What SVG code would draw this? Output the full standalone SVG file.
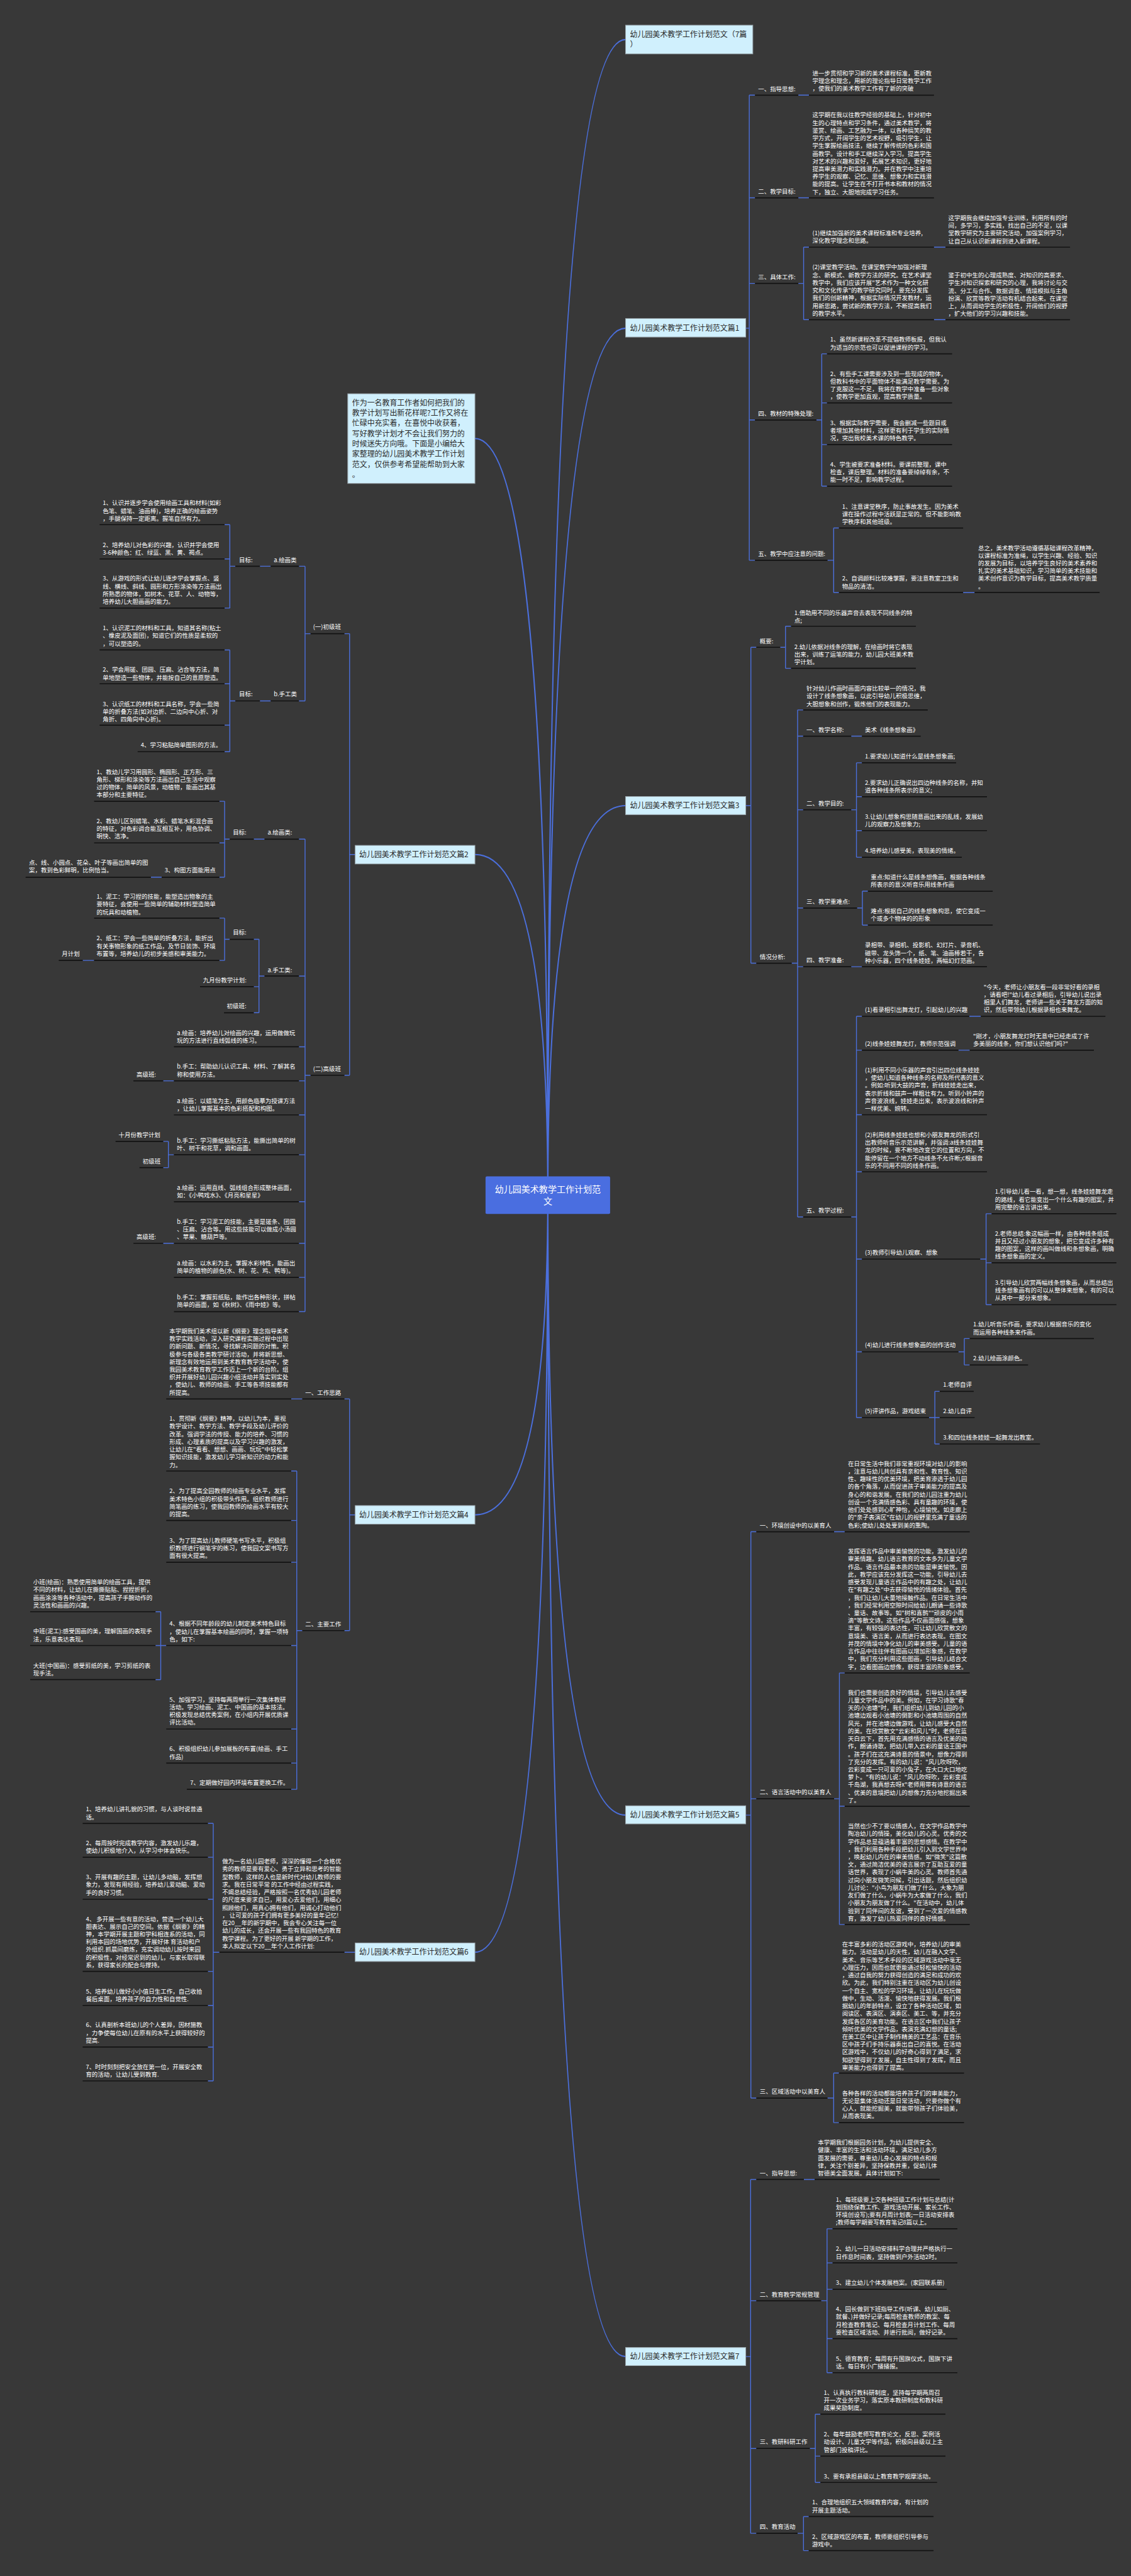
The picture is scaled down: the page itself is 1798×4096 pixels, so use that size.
<svg xmlns="http://www.w3.org/2000/svg" width="1798" height="4096" viewBox="0 0 1798 4096">
<style>
.t{font-family:"Noto Sans CJK SC","Noto Sans",sans-serif;font-size:13.5px;fill:#ffffff}
.h{font-family:"Noto Sans CJK SC","Noto Sans",sans-serif;font-size:17px;fill:#2b2b2b}
.c{font-family:"Noto Sans CJK SC","Noto Sans",sans-serif;font-size:20px;fill:#ffffff}
.ul{stroke:#121212;stroke-width:2.4;fill:none}
.bl{stroke:#4b6fdc;stroke-width:2;fill:none}
.cv{stroke:#4b6fdc;stroke-width:3;fill:none}
.box{fill:#d0f0fd;stroke:#9aa6ad;stroke-width:1.5}
</style>
<rect width="1798" height="4096" fill="#383838"/>
<g transform="scale(0.70234 0.70245)">
<g id="connectors">
<path class="cv" d="M1240 2705Q1240 89.5 1416 89.5M1240 2705Q1240 743 1416 743M1240 2705Q1240 1823.6 1416 1823.6M1240 2705Q1240 4108.7 1416 4108.7M1240 2705Q1240 5334.4 1416 5334.4M1240 2705Q1240 992.6 1075 992.6M1240 2705Q1240 1934.2 1075 1934.2M1240 2705Q1240 3429 1075 3429M1240 2705Q1240 4419 1075 4419"/>
<path class="bl" d="M1688 743H1696M1696 215.4V1268.3M1696 215.4H1709M1807 215.4H1831M1696 447.8H1709M1807 447.8H1831M1696 641.5H1709M1807 641.5H1819M1819 559.5V723.6M1819 559.5H1831M1819 723.6H1831M2114 559.5H2140M2114 723.6H2140M1696 950.7H1709M1848 950.7H1860M1860 801V1100.5M1860 801H1872M1860 912H1872M1860 1006.3H1872M1860 1100.5H1872M1696 1268.3H1709M1873 1268.3H1887M1887 1195.2V1341.3M1887 1195.2H1899M1887 1341.3H1899M2180 1341.3H2206"/>
<path class="bl" d="M1688 1823.6H1699.6M1699.6 1465.2V2180.3M1699.6 1465.2H1712M1766 1465.2H1778M1778 1417.5V1512.8M1778 1417.5H1790.6M1778 1512.8H1790.6M1699.6 2180.3H1712M1792 2180.3H1805.4M1805.4 1607V2754.7M1805.4 1607H1818M1805.4 1666.4H1818M1805.4 1833H1818M1805.4 2055.4H1818M1805.4 2188.3H1818M1805.4 2754.7H1818M1926.7 1666.4H1951M1926.7 1833H1938.6M1938.6 1726.7V1940.5M1938.6 1726.7H1951M1938.6 1803.4H1951M1938.6 1880.2H1951M1938.6 1940.5H1951M1940 2055.4H1952M1952 2017.3V2094M1952 2017.3H1964.5M1952 2094H1964.5M1926.7 2188.3H1951M1926.7 2754.7H1938.6M1938.6 2300.5V3208.8M1938.6 2300.5H1951M1938.6 2377.2H1951M1938.6 2523.3H1951M1938.6 2652.5H1951M1938.6 2850H1951M1938.6 3060H1951M1938.6 3208.8H1951M2194 2300.5H2220M2169.4 2377.2H2195M2218.7 2850H2232M2232 2747.3V2953.2M2232 2747.3H2244.6M2232 2858.4H2244.6M2232 2953.2H2244.6M2169.4 3060H2182.7M2182.7 3029.9V3089.7M2182.7 3029.9H2195M2182.7 3089.7H2195M2102.8 3208.8H2116M2116 3149.5V3268.6M2116 3149.5H2127M2116 3208.8H2127M2116 3268.6H2127"/>
<path class="bl" d="M1688 4108.7H1699.6M1699.6 3467.2V4749.2M1699.6 3467.2H1712M1888 3467.2H1912M1699.6 4071.6H1712M1888 4071.6H1900M1900 3786.9V4356.4M1900 3786.9H1912M1900 4088.6H1912M1900 4356.4H1912M1699.6 4749.2H1712M1873 4749.2H1887M1887 4692.6V4804.8M1887 4692.6H1899M1887 4804.8H1899"/>
<path class="bl" d="M1688 5334.4H1699M1699 4933.4V5734.4M1699 4933.4H1712M1819.5 4933.4H1844M1699 5208H1712M1858.7 5208H1872M1872 5045V5370.8M1872 5045H1884.6M1872 5122.2H1884.6M1872 5182H1884.6M1872 5293.7H1884.6M1872 5370.8H1884.6M1699 5542.3H1712M1833 5542.3H1845.4M1845.4 5464.7V5619.3M1845.4 5464.7H1857M1845.4 5559.6H1857M1845.4 5619.3H1857M1699 5734.4H1712M1805.4 5734.4H1818.7M1818.7 5696.4V5773.5M1818.7 5696.4H1830.6M1818.7 5773.5H1830.6"/>
<path class="bl" d="M804 1934.2H791.3M791.3 1434.4V2434M791.3 1434.4H779.5M703 1434.4H690.5M690.5 1281.8V1586.6M690.5 1281.8H676.6M612.7 1281.8H588.3M532.7 1281.8H520.2M520.2 1187.6V1376.5M520.2 1187.6H508.4M520.2 1265.2H508.4M520.2 1376.5H508.4M690.5 1586.6H676.6M612.7 1586.6H588.3M532.7 1586.6H520.2M520.2 1471.2V1701.5M520.2 1471.2H508.4M520.2 1547.8H508.4M520.2 1641.5H508.4M520.2 1701.5H508.4M791.3 2434H779.5M703 2434H690.5M690.5 1899.5V2969M690.5 1899.5H676.6M690.5 2209.3H676.6M690.5 2369.5H676.6M690.5 2446.6H676.6M690.5 2523.7H676.6M690.5 2613.9H676.6M690.5 2720.2H676.6M690.5 2814.4H676.6M690.5 2891.5H676.6M690.5 2969H676.6M598.8 1899.5H574.4M520 1899.5H508.4M508.4 1813.8V1985.6M508.4 1813.8H496.6M508.4 1908H496.6M508.4 1985.6H496.6M365.9 1985.6H341.5M598.8 2209.3H586.2M586.2 2126.2V2292.4M586.2 2126.2H574.4M586.2 2233.5H574.4M586.2 2292.4H574.4M520 2126.2H508.4M508.4 2078.3V2174M508.4 2078.3H496.6M508.4 2174H496.6M213 2174H187.2M393.7 2446.6H369.4M393.7 2613.9H381.2M381.2 2583.7V2643.1M381.2 2583.7H369.4M381.2 2643.1H369.4M393.7 2814.4H369.4"/>
<path class="bl" d="M804 3429H791.3M791.3 3166.6V3691M791.3 3166.6H779.5M684.3 3166.6H659.2M791.3 3691H779.5M684.3 3691H671.7M671.7 3329.8V4050.3M671.7 3329.8H659.2M671.7 3441.7H659.2M671.7 3536.4H659.2M671.7 3724.8H659.2M671.7 3913.8H659.2M671.7 3990.9H659.2M671.7 4050.3H659.2M376.3 3724.8H363.8M363.8 3648.3V3802M363.8 3648.3H352M363.8 3724.8H352M363.8 3802H352"/>
<path class="bl" d="M804 4419.1H779.5M496.6 4419.1H482.7M482.7 4127.4V4710.3M482.7 4127.4H470.5M482.7 4204H470.5M482.7 4299.2H470.5M482.7 4462.4H470.5M482.7 4539.5H470.5M482.7 4633.7H470.5M482.7 4710.3H470.5"/>
</g>

<g id="center">
<rect x="1099" y="2663" width="282" height="85" rx="3" fill="#4a6ee0"/>
<text class="c" x="1240" y="2698.5" text-anchor="middle">幼儿园美术教学工作计划范</text>
<text class="c" x="1240" y="2726.5" text-anchor="middle">文</text>
</g>

<g id="intro">
<rect class="box" x="787.2" y="891.3" width="287.8" height="203"/>
<text class="h" x="797" y="918"><tspan>作为一名教育工作者如何把我们的</tspan><tspan x="797" dy="23.2">教学计划写出新花样呢?工作又将在</tspan><tspan x="797" dy="23.2">忙碌中充实着，在喜悦中收获着，</tspan><tspan x="797" dy="23.2">写好教学计划才不会让我们努力的</tspan><tspan x="797" dy="23.2">时候迷失方向哦。下面是小编给大</tspan><tspan x="797" dy="23.2">家整理的幼儿园美术教学工作计划</tspan><tspan x="797" dy="23.2">范文，仅供参考希望能帮助到大家</tspan><tspan x="797" dy="23.2">。</tspan></text>
</g>

<g id="title">
<rect class="box" x="1416" y="57" width="288" height="65"/>
<text class="h" x="1426" y="84.5"><tspan>幼儿园美术教学工作计划范文（7篇</tspan><tspan x="1426" dy="22.8">）</tspan></text>
</g>

<g id="p1">
<rect class="box" x="1416" y="721" width="272" height="42"/>
<text class="h" x="1426" y="749">幼儿园美术教学工作计划范文篇1</text>
<path class="ul" d="M1709 215.4H1807M1831 215.4H2114M1709 447.8H1807M1831 447.8H2114M1709 641.5H1807M1831 559.5H2114M2140 559.5H2422M1831 723.6H2114M2140 723.6H2422M1709 950.7H1848M1872 801H2155M1872 912H2155M1872 1006.3H2155M1872 1100.5H2155M1709 1268.3H1873M1899 1195.2H2180M1899 1341.3H2180M2206 1341.3H2489"/>
<text class="t" x="1716" y="206">一、指导思想:</text>
<text class="t" x="1839" y="170.7"><tspan>进一步贯彻和学习新的美术课程标准，更新教</tspan><tspan x="1839" dy="17.4">学理念和理念，用新的理论指导日常教学工作</tspan><tspan x="1839" dy="17.4">，使我们的美术教学工作有了新的突破</tspan></text>
<text class="t" x="1716" y="439">二、教学目标:</text>
<text class="t" x="1839" y="265.4"><tspan>这学期在我以往教学经验的基础上，针对初中</tspan><tspan x="1839" dy="17.4">生的心理特点和学习条件，通过美术教学，将</tspan><tspan x="1839" dy="17.4">鉴赏、绘画、工艺融为一体，以各种搞笑的教</tspan><tspan x="1839" dy="17.4">学方式，开阔学生的艺术视野，吸引学生，让</tspan><tspan x="1839" dy="17.4">学生掌握绘画技法，继续了解传统的色彩和国</tspan><tspan x="1839" dy="17.4">画教学。设计和手工继续深入学习。提高学生</tspan><tspan x="1839" dy="17.4">对艺术的兴趣和爱好，拓展艺术知识，更好地</tspan><tspan x="1839" dy="17.4">提高审美潜力和实践潜力。并在教学中注重培</tspan><tspan x="1839" dy="17.4">养学生的观察、记忆、思维、想象力和实践潜</tspan><tspan x="1839" dy="17.4">能的提高。让学生在不打开书本和教材的情况</tspan><tspan x="1839" dy="17.4">下，独立、大胆地完成学习任务。</tspan></text>
<text class="t" x="1716" y="632">三、具体工作:</text>
<text class="t" x="1839" y="532.7"><tspan>(1)继续加强新的美术课程标准和专业培养,</tspan><tspan x="1839" dy="17.4">深化教学理念和思路。</tspan></text>
<text class="t" x="2146.5" y="498.3"><tspan>这学期我会继续加强专业训练，利用所有的时</tspan><tspan x="2146.5" dy="17.4">间，多学习，多实践，找出自己的不足，以课</tspan><tspan x="2146.5" dy="17.4">堂教学研究为主要研究活动，加强案例学习，</tspan><tspan x="2146.5" dy="17.4">让自己从认识新课程到进入新课程。</tspan></text>
<text class="t" x="1839" y="610"><tspan>(2)课堂教学活动。在课堂教学中加强对新理</tspan><tspan x="1839" dy="17.4">念、新模式、新教学方法的研究。在艺术课堂</tspan><tspan x="1839" dy="17.4">教学中，我们应该开展"艺术作为一种文化研</tspan><tspan x="1839" dy="17.4">究和文化传承"的教学研究同时，要充分发挥</tspan><tspan x="1839" dy="17.4">我们的创新精神，根据实际情况开发教材，运</tspan><tspan x="1839" dy="17.4">用新思路，尝试新的教学方法，不断提高我们</tspan><tspan x="1839" dy="17.4">的教学水平。</tspan></text>
<text class="t" x="2146.5" y="628"><tspan>鉴于初中生的心理成熟度、对知识的高要求、</tspan><tspan x="2146.5" dy="17.4">学生对知识探索和研究的心理，我将讨论与交</tspan><tspan x="2146.5" dy="17.4">流、分工与合作、数据调查、情境模拟与主角</tspan><tspan x="2146.5" dy="17.4">扮演、欣赏等教学活动有机结合起来。在课堂</tspan><tspan x="2146.5" dy="17.4">上，从而调动学生的积极性，开阔他们的视野</tspan><tspan x="2146.5" dy="17.4">，扩大他们的学习兴趣和技能。</tspan></text>
<text class="t" x="1716" y="941.4">四、教材的特殊处理:</text>
<text class="t" x="1879" y="773.6"><tspan>1、虽然新课程改革不提倡教师板报，但我认</tspan><tspan x="1879" dy="17.4">为适当的示范也可以促进课程的学习。</tspan></text>
<text class="t" x="1879" y="850.9"><tspan>2、有些手工课需要涉及到一些现成的物体，</tspan><tspan x="1879" dy="17.4">但教科书中的平面物体不能满足教学需要。为</tspan><tspan x="1879" dy="17.4">了克服这一不足，我将在教学中准备一些对象</tspan><tspan x="1879" dy="17.4">，使教学更加直观，提高教学质量。</tspan></text>
<text class="t" x="1879" y="962"><tspan>3、根据实际教学需要，我会删减一些题目或</tspan><tspan x="1879" dy="17.4">者增加其他材料，这样更有利于学生的实际情</tspan><tspan x="1879" dy="17.4">况，突出我校美术课的特色教学。</tspan></text>
<text class="t" x="1879" y="1056.3"><tspan>4、学生被要求准备材料。要课前整理，课中</tspan><tspan x="1879" dy="17.4">检查，课后整理。材料的准备要绰绰有余，不</tspan><tspan x="1879" dy="17.4">能一时不足，影响教学过程。</tspan></text>
<text class="t" x="1716" y="1259">五、教学中应注意的问题:</text>
<text class="t" x="1906" y="1151"><tspan>1、注意课堂秩序，防止事故发生。因为美术</tspan><tspan x="1906" dy="17.4">课在操作过程中活跃是正常的。但不能影响教</tspan><tspan x="1906" dy="17.4">学秩序和其他班级。</tspan></text>
<text class="t" x="1906" y="1314.6"><tspan>2、自调颜料比较难掌握，要注意教室卫生和</tspan><tspan x="1906" dy="17.4">物品的清洁。</tspan></text>
<text class="t" x="2214" y="1245"><tspan>总之，美术教学活动遵循基础课程改革精神，</tspan><tspan x="2214" dy="17.4">以课程标准为准绳，以学生兴趣、经验、知识</tspan><tspan x="2214" dy="17.4">的发展为目标，以培养学生良好的美术素养和</tspan><tspan x="2214" dy="17.4">扎实的美术基础知识，学习简单的美术技能和</tspan><tspan x="2214" dy="17.4">美术创作意识为教学目标，提高美术教学质量</tspan><tspan x="2214" dy="17.4">。</tspan></text>
</g>

<g id="p3">
<rect class="box" x="1416" y="1803" width="272" height="41"/>
<text class="h" x="1426" y="1829.6">幼儿园美术教学工作计划范文篇3</text>
<path class="ul" d="M1712 1465.2H1766M1790.6 1417.5H2073M1790.6 1512.8H2073M1712 2180.3H1792M1818 1607H2100M1818 1666.4H1926.7M1951 1666.4H2084M1818 1833H1926.7M1951 1726.7H2164M1951 1803.4H2234M1951 1880.2H2234M1951 1940.5H2177M1818 2055.4H1940M1964.5 2017.3H2247M1964.5 2094H2247M1818 2188.3H1926.7M1951 2188.3H2234M1818 2754.7H1926.7M1951 2300.5H2194M2220 2300.5H2502M1951 2377.2H2169.4M2195 2377.2H2476M1951 2523.3H2234M1951 2652.5H2234M1951 2850H2218.7M2244.6 2747.3H2527M2244.6 2858.4H2527M2244.6 2953.2H2527M1951 3060H2169.4M2195 3029.9H2476M2195 3089.7H2327M1951 3208.8H2102.8M2127 3149.5H2204M2127 3208.8H2206M2127 3268.6H2354"/>
<text class="t" x="1719.6" y="1456">概要:</text>
<text class="t" x="1798" y="1391.8"><tspan>1.借助用不同的乐器声音去表现不同线条的特</tspan><tspan x="1798" dy="17.4">点;</tspan></text>
<text class="t" x="1798" y="1468.6"><tspan>2.幼儿依据对线条的理解，在绘画时将它表现</tspan><tspan x="1798" dy="17.4">出来，训练了运笔的能力，幼儿园大班美术教</tspan><tspan x="1798" dy="17.4">学计划。</tspan></text>
<text class="t" x="1719.6" y="2171">情况分析:</text>
<text class="t" x="1825.4" y="1563.4"><tspan>针对幼儿作画时画面内容比较单一的情况，我</tspan><tspan x="1825.4" dy="17.4">设计了线条想象画，以此引导幼儿积极思维，</tspan><tspan x="1825.4" dy="17.4">大胆想象和创作，锻炼他们的表现能力。</tspan></text>
<text class="t" x="1825.4" y="1657">一、教学名称:</text>
<text class="t" x="1957.8" y="1657">美术《线条想象画》</text>
<text class="t" x="1825.4" y="1823.8">二、教学目的:</text>
<text class="t" x="1957.8" y="1716.9">1.要求幼儿知道什么是线条想象画;</text>
<text class="t" x="1957.8" y="1776.7"><tspan>2.要求幼儿正确说出四边种线条的名称，并知</tspan><tspan x="1957.8" dy="17.4">道各种线条所表示的意义;</tspan></text>
<text class="t" x="1957.8" y="1853.4"><tspan>3.让幼儿想象构思随意画出来的乱线，发展幼</tspan><tspan x="1957.8" dy="17.4">儿的观察力及想象力;</tspan></text>
<text class="t" x="1957.8" y="1930.7">4.培养幼儿感受美，表现美的情绪。</text>
<text class="t" x="1825.4" y="2046">三、教学重难点:</text>
<text class="t" x="1971" y="1990.5"><tspan>重点:知道什么是线条想像画，根据各种线条</tspan><tspan x="1971" dy="17.4">所表示的意义听音乐用线条作画</tspan></text>
<text class="t" x="1971" y="2067.3"><tspan>难点:根据自己的线条想象构思，使它变成一</tspan><tspan x="1971" dy="17.4">个或多个物体的的形象</tspan></text>
<text class="t" x="1825.4" y="2178.4">四、教学准备:</text>
<text class="t" x="1957.8" y="2144.6"><tspan>录相带、录相机、投影机、幻灯片、录音机、</tspan><tspan x="1957.8" dy="17.4">磁带、龙头饰一个，纸、笔、油画棒若干，各</tspan><tspan x="1957.8" dy="17.4">种小乐器，四个线条娃娃，两幅幻灯范画。</tspan></text>
<text class="t" x="1825.4" y="2744.8">五、教学过程:</text>
<text class="t" x="1957.8" y="2290.7">(1)看录相引出舞龙灯，引起幼儿的兴趣</text>
<text class="t" x="2226.4" y="2238.8"><tspan>"今天，老师让小朋友看一段非常好看的录相</tspan><tspan x="2226.4" dy="17.4">，请看吧!"幼儿看过录相后，引导幼儿说出录</tspan><tspan x="2226.4" dy="17.4">相里人们舞龙，老师讲一些关于舞龙方面的知</tspan><tspan x="2226.4" dy="17.4">识，然后带领幼儿根据录相也来舞龙。</tspan></text>
<text class="t" x="1957.8" y="2367.4">(2)线条娃娃舞龙灯，教师示范强调</text>
<text class="t" x="2202.7" y="2350.5"><tspan>"刚才，小朋友舞龙灯时无意中已经走成了许</tspan><tspan x="2202.7" dy="17.4">多美丽的线条，你们想认识他们吗?"</tspan></text>
<text class="t" x="1957.8" y="2427.2"><tspan>(1)利用不同小乐器的声音引出四位线条娃娃</tspan><tspan x="1957.8" dy="17.4">，使幼儿知道各种线条的名称及所代表的意义</tspan><tspan x="1957.8" dy="17.4">。例如:听到大鼓的声音，折线娃娃走出来，</tspan><tspan x="1957.8" dy="17.4">表示折线和鼓声一样粗壮有力。听到小铃声的</tspan><tspan x="1957.8" dy="17.4">声音波浪线，娃娃走出来，表示波浪线和铃声</tspan><tspan x="1957.8" dy="17.4">一样优美、婉转。</tspan></text>
<text class="t" x="1957.8" y="2573.9"><tspan>(2)利用线条娃娃也想和小朋友舞龙的形式引</tspan><tspan x="1957.8" dy="17.4">出教师听音乐示范讲解，并强调:a线条娃娃舞</tspan><tspan x="1957.8" dy="17.4">龙的时候，要不断地改变它的位置和方向，不</tspan><tspan x="1957.8" dy="17.4">能停留在一个地方不动线条不允许断;c根据音</tspan><tspan x="1957.8" dy="17.4">乐的不同用不同的线条作画。</tspan></text>
<text class="t" x="1957.8" y="2840.1">(3)教师引导幼儿观察、想象</text>
<text class="t" x="2252" y="2702.5"><tspan>1.引导幼儿看一看，想一想，线条娃娃舞龙走</tspan><tspan x="2252" dy="17.4">的路线，看它能变出一个什么有趣的图案，并</tspan><tspan x="2252" dy="17.4">用完整的语言讲出来。</tspan></text>
<text class="t" x="2252" y="2796.7"><tspan>2.老师总结:象这幅画一样，由各种线条组成</tspan><tspan x="2252" dy="17.4">并且又经过小朋友的想象，把它变成许多种有</tspan><tspan x="2252" dy="17.4">趣的图案，这样的画叫做线和条想象画，明确</tspan><tspan x="2252" dy="17.4">线条想象画的定义。</tspan></text>
<text class="t" x="2252" y="2908.4"><tspan>3.引导幼儿欣赏两幅线条想象画，从而总结出</tspan><tspan x="2252" dy="17.4">线条想象画有的可以从整体来想象，有的可以</tspan><tspan x="2252" dy="17.4">从其中一部分来想象。</tspan></text>
<text class="t" x="1957.8" y="3049.7">(4)幼儿进行线条想象画的创作活动</text>
<text class="t" x="2202.7" y="3003"><tspan>1.幼儿听音乐作画，要求幼儿根据音乐的变化</tspan><tspan x="2202.7" dy="17.4">而运用各种线条来作画。</tspan></text>
<text class="t" x="2202.7" y="3079.9">2.幼儿绘画涂颜色。</text>
<text class="t" x="1957.8" y="3199">(5)评讲作品，游戏结束</text>
<text class="t" x="2134.6" y="3139.7">1.老师自评</text>
<text class="t" x="2134.6" y="3199">2.幼儿自评</text>
<text class="t" x="2134.6" y="3258.8">3.和四位线条娃娃一起舞龙出教室。</text>
</g>

<g id="p5">
<rect class="box" x="1416" y="4087.5" width="272" height="41"/>
<text class="h" x="1426" y="4114.7">幼儿园美术教学工作计划范文篇5</text>
<path class="ul" d="M1712 3467.2H1888M1912 3467.2H2195M1712 4071.6H1888M1912 3786.9H2195M1912 4088.6H2195M1912 4356.4H2195M1712 4749.2H1873M1899 4692.6H2182M1899 4804.8H2182"/>
<text class="t" x="1719.6" y="3457.3">一、环境创设中的以美育人</text>
<text class="t" x="1919.4" y="3318"><tspan>在日常生活中我们非常重视环境对幼儿的影响</tspan><tspan x="1919.4" dy="17.4">，注意与幼儿共创具有亲和性、教育性、知识</tspan><tspan x="1919.4" dy="17.4">性、趣味性的优美环境，把美育渗透于幼儿园</tspan><tspan x="1919.4" dy="17.4">的各个角落，从而促进孩子审美能力的提高及</tspan><tspan x="1919.4" dy="17.4">身心的和谐发展。在我们的幼儿园注重为幼儿</tspan><tspan x="1919.4" dy="17.4">创设一个充满情感色彩、具有童趣的环境，使</tspan><tspan x="1919.4" dy="17.4">他们处处感到心旷神怡，心境愉悦。如走廊上</tspan><tspan x="1919.4" dy="17.4">的"亲子表演区"在幼儿的视野里充满了童话的</tspan><tspan x="1919.4" dy="17.4">色彩;使幼儿处处受到美的熏陶。</tspan></text>
<text class="t" x="1719.6" y="4061.8">二、语言活动中的以美育人</text>
<text class="t" x="1919.4" y="3516.6"><tspan>发挥语言作品中审美愉悦的功能，激发幼儿的</tspan><tspan x="1919.4" dy="17.4">审美情趣。幼儿语言教育的文本多为儿童文学</tspan><tspan x="1919.4" dy="17.4">作品。语言作品最本质的功能是审美愉悦。因</tspan><tspan x="1919.4" dy="17.4">此，教学应该充分发挥这一功能，引导幼儿去</tspan><tspan x="1919.4" dy="17.4">感受发现儿童语言作品中的有趣之处，让幼儿</tspan><tspan x="1919.4" dy="17.4">在"有趣之处"中去获得愉悦的情绪体验。首先</tspan><tspan x="1919.4" dy="17.4">，我们让幼儿大量地接触作品。在日常生活中</tspan><tspan x="1919.4" dy="17.4">，我们经常利用空隙时间给幼儿朗诵一些诗歌</tspan><tspan x="1919.4" dy="17.4">、童话、故事等。如"树和喜鹊""顽皮的小雨</tspan><tspan x="1919.4" dy="17.4">滴"等散文诗。这些作品不仅画面感强，想象</tspan><tspan x="1919.4" dy="17.4">丰富，有较强的表达性，可让幼儿欣赏散文的</tspan><tspan x="1919.4" dy="17.4">意境美、语言美，从而进行表达表现。在图文</tspan><tspan x="1919.4" dy="17.4">并茂的情境中净化幼儿的审美感受。儿童的语</tspan><tspan x="1919.4" dy="17.4">言作品中往往伴有图画以增加形象感，在教学</tspan><tspan x="1919.4" dy="17.4">中，我们充分利用这些图画，引导幼儿结合文</tspan><tspan x="1919.4" dy="17.4">字，边看图画边想像，获得丰富的形象感受。</tspan></text>
<text class="t" x="1919.4" y="3836.3"><tspan>我们也需要创造良好的情境，引导幼儿去感受</tspan><tspan x="1919.4" dy="17.4">儿童文学作品中的美。例如，在学习诗歌"春</tspan><tspan x="1919.4" dy="17.4">天的小池塘"时，我们组织幼儿到幼儿园的小</tspan><tspan x="1919.4" dy="17.4">池塘边观看小池塘的倒影和小池塘周围的自然</tspan><tspan x="1919.4" dy="17.4">风光，并在池塘边做游戏，让幼儿感受大自然</tspan><tspan x="1919.4" dy="17.4">的美。在欣赏散文"云彩和风儿"时，老师在蓝</tspan><tspan x="1919.4" dy="17.4">天白云下，首先用充满感情的语言及优美的动</tspan><tspan x="1919.4" dy="17.4">作，朗诵诗歌，把幼儿带入云彩的童话王国中</tspan><tspan x="1919.4" dy="17.4">。孩子们在这充满诗意的情景中，想像力得到</tspan><tspan x="1919.4" dy="17.4">了充分的发挥。有的幼儿说："风儿吹呀吹，</tspan><tspan x="1919.4" dy="17.4">云彩变成一只可爱的小兔子，在大口大口地吃</tspan><tspan x="1919.4" dy="17.4">萝卜。"有的幼儿说："风儿吹呀吹，云彩变成</tspan><tspan x="1919.4" dy="17.4">千岛湖，我真想去呀x"老师用带有诗意的语言</tspan><tspan x="1919.4" dy="17.4">、优美的意境把幼儿的想像力充分地挖掘出来</tspan><tspan x="1919.4" dy="17.4">了。</tspan></text>
<text class="t" x="1919.4" y="4138.6"><tspan>当然也少不了要以情感人，在文学作品教学中</tspan><tspan x="1919.4" dy="17.4">陶冶幼儿的情操，美化幼儿的心灵。优秀的文</tspan><tspan x="1919.4" dy="17.4">学作品总是蕴涵着丰富的思想感情。在教学中</tspan><tspan x="1919.4" dy="17.4">，我们利用各种手段把幼儿引入到文学世界中</tspan><tspan x="1919.4" dy="17.4">，唤起幼儿内在的审美情感。如"微笑"这篇散</tspan><tspan x="1919.4" dy="17.4">文，通过简洁优美的语言展示了互助互爱的童</tspan><tspan x="1919.4" dy="17.4">话世界，表现了小蜗牛美的心灵。教师首先通</tspan><tspan x="1919.4" dy="17.4">过向小朋友微笑问候，引出话题，然后组织幼</tspan><tspan x="1919.4" dy="17.4">儿讨论："小鸟为朋友们做了什么，大象为朋</tspan><tspan x="1919.4" dy="17.4">友们做了什么，小蜗牛为大家做了什么，我们</tspan><tspan x="1919.4" dy="17.4">小朋友为朋友做了什么。"在活动中，幼儿体</tspan><tspan x="1919.4" dy="17.4">验到了同伴间的友谊，受到了一次爱的情感教</tspan><tspan x="1919.4" dy="17.4">育，激发了幼儿热爱同伴的良好情感。</tspan></text>
<text class="t" x="1719.6" y="4739.4">三、区域活动中以美育人</text>
<text class="t" x="1906" y="4406.4"><tspan>在丰富多彩的活动区游戏中，培养幼儿的审美</tspan><tspan x="1906" dy="17.4">能力。活动是幼儿的天性，幼儿在融入文学、</tspan><tspan x="1906" dy="17.4">美术、音乐等艺术手段的区域游戏活动中毫无</tspan><tspan x="1906" dy="17.4">心理压力，因而也就更能通过轻松愉快的活动</tspan><tspan x="1906" dy="17.4">，通过自我的努力获得创造的满足和成功的欢</tspan><tspan x="1906" dy="17.4">欣。为此，我们特别注重在活动区为幼儿创设</tspan><tspan x="1906" dy="17.4">一个自主、宽松的学习环境，让幼儿在玩玩做</tspan><tspan x="1906" dy="17.4">做中，生动、活泼、愉快地获得发展。我们根</tspan><tspan x="1906" dy="17.4">据幼儿的年龄特点，设立了各种活动区域，如</tspan><tspan x="1906" dy="17.4">阅读区、表演区、演奏区、美工、等，并充分</tspan><tspan x="1906" dy="17.4">发挥各区的美育功能。在语言区中我们让孩子</tspan><tspan x="1906" dy="17.4">倾听优美的文学作品，表演充满幻想的童话;</tspan><tspan x="1906" dy="17.4">在美工区中让孩子制作精美的工艺品：在音乐</tspan><tspan x="1906" dy="17.4">区中孩子们手持乐器奏出自己的喜悦。在活动</tspan><tspan x="1906" dy="17.4">区游戏中，不仅幼儿的好奇心得到了满足，求</tspan><tspan x="1906" dy="17.4">知欲望得到了发展，自主性得到了发挥，而且</tspan><tspan x="1906" dy="17.4">审美能力也得到了提高。</tspan></text>
<text class="t" x="1906" y="4743"><tspan>各种各样的活动都能培养孩子们的审美能力，</tspan><tspan x="1906" dy="17.4">无论是集体活动还是日常活动，只要你做个有</tspan><tspan x="1906" dy="17.4">心人，就能挖掘美，就能带领孩子们体验美，</tspan><tspan x="1906" dy="17.4">从而表现美。</tspan></text>
</g>

<g id="p7">
<rect class="box" x="1416" y="5313.8" width="272" height="41"/>
<text class="h" x="1426" y="5340.4">幼儿园美术教学工作计划范文篇7</text>
<path class="ul" d="M1712 4933.4H1819.5M1844 4933.4H2127M1712 5208H1858.7M1884.6 5045H2167M1884.6 5122.2H2167M1884.6 5182H2143M1884.6 5293.7H2167M1884.6 5370.8H2167M1712 5542.3H1833M1857 5464.7H2140M1857 5559.6H2140M1857 5619.3H2121M1712 5734.4H1805.4M1830.6 5696.4H2113M1830.6 5773.5H2113"/>
<text class="t" x="1719.6" y="4924">一、指导思想:</text>
<text class="t" x="1851.3" y="4854.8"><tspan>本学期我们根据园务计划，为幼儿提供安全、</tspan><tspan x="1851.3" dy="17.4">健康、丰富的生活和活动环境，满足幼儿多方</tspan><tspan x="1851.3" dy="17.4">面发展的需要，尊重幼儿身心发展的特点和规</tspan><tspan x="1851.3" dy="17.4">律，关注个别差异，坚持保教并重，促幼儿体</tspan><tspan x="1851.3" dy="17.4">智德美全面发展。具体计划如下:</tspan></text>
<text class="t" x="1719.6" y="5198.3">二、教育教学常规管理</text>
<text class="t" x="1892" y="4983.6"><tspan>1、每班级要上交各种班级工作计划与总结(计</tspan><tspan x="1892" dy="17.4">划围绕保教工作、游戏活动开展、家长工作、</tspan><tspan x="1892" dy="17.4">环境创设写);要有月周计划表;一日活动安排表</tspan><tspan x="1892" dy="17.4">;教师每学期要写教育笔记8篇以上。</tspan></text>
<text class="t" x="1892" y="5095.7"><tspan>2、幼儿一日活动安排科学合理并严格执行一</tspan><tspan x="1892" dy="17.4">日作息时间表，坚持做到户外活动2时。</tspan></text>
<text class="t" x="1892" y="5172.2">3、建立幼儿个体发展档案。(家园联系册)</text>
<text class="t" x="1892" y="5232"><tspan>4、园长做到下班指导工作(听课、幼儿如厕、</tspan><tspan x="1892" dy="17.4">就餐、)并做好记录;每周检查教师的教案、每</tspan><tspan x="1892" dy="17.4">月检查教育笔记、每月检查月计划工作、每周</tspan><tspan x="1892" dy="17.4">要检查区域活动、并进行批阅，做好记录。</tspan></text>
<text class="t" x="1892" y="5343.8"><tspan>5、德育教育：每周有升国旗仪式，国旗下讲</tspan><tspan x="1892" dy="17.4">话。每日有小广播播报。</tspan></text>
<text class="t" x="1719.6" y="5532.6">三、教研科研工作</text>
<text class="t" x="1864.6" y="5420.8"><tspan>1、认真执行教科研制度，坚持每学期两周召</tspan><tspan x="1864.6" dy="17.4">开一次业务学习，落实原本教研制度和教科研</tspan><tspan x="1864.6" dy="17.4">成果奖励制度。</tspan></text>
<text class="t" x="1864.6" y="5515.3"><tspan>2、每年鼓励老师写教育论文，反思、案例活</tspan><tspan x="1864.6" dy="17.4">动设计、儿童文学等作品，积极向县级以上主</tspan><tspan x="1864.6" dy="17.4">管部门投稿评比。</tspan></text>
<text class="t" x="1864.6" y="5609.7">3、要有承担县级以上教育教学观摩活动。</text>
<text class="t" x="1719.6" y="5724.8">四、教育活动</text>
<text class="t" x="1838" y="5669.4"><tspan>1、合理地组织五大领域教育内容，有计划的</tspan><tspan x="1838" dy="17.4">开展主题活动。</tspan></text>
<text class="t" x="1838" y="5746.5"><tspan>2、区域游戏区的布置，教师要组织引导参与</tspan><tspan x="1838" dy="17.4">游戏中。</tspan></text>
</g>

<g id="p2">
<rect class="box" x="804" y="1913.6" width="271" height="42"/>
<text class="h" x="813" y="1940.2">幼儿园美术教学工作计划范文篇2</text>
<path class="ul" d="M703 1434.4H779.5M612.7 1281.8H676.6M532.7 1281.8H588.3M225.5 1187.6H508.4M225.5 1265.2H508.4M225.5 1376.5H508.4M612.7 1586.6H676.6M532.7 1586.6H588.3M225.5 1471.2H508.4M225.5 1547.8H508.4M225.5 1641.5H508.4M311.6 1701.5H508.4M703 2434H779.5M598.8 1899.5H676.6M520 1899.5H574.4M213 1813.8H496.6M213 1908H496.6M365.9 1985.6H496.6M58 1985.6H341.5M598.8 2209.3H676.6M520 2126.2H574.4M213 2078.3H496.6M213 2174H496.6M133 2174H187.2M452.8 2233.5H574.4M507 2292.4H574.4M393.7 2369.5H676.6M393.7 2446.6H676.6M302 2446.6H369.4M393.7 2523.7H676.6M393.7 2613.9H676.6M261.6 2583.7H369.4M315.8 2643.1H369.4M393.7 2720.2H676.6M393.7 2814.4H676.6M302 2814.4H369.4M393.7 2891.5H676.6M393.7 2969H676.6"/>
<text class="t" x="708.6" y="1424.3">(一)初级班</text>
<text class="t" x="619.6" y="1272">a.绘画类</text>
<text class="t" x="541" y="1272">目标:</text>
<text class="t" x="232.4" y="1143.7"><tspan>1、认识并逐步学会使用绘画工具和材料(如彩</tspan><tspan x="232.4" dy="17.4">色笔、蜡笔、油画棒)，培养正确的绘画姿势</tspan><tspan x="232.4" dy="17.4">，手腿保持一定距离。握笔自然有力。</tspan></text>
<text class="t" x="232.4" y="1237.9"><tspan>2、培养幼儿对色彩的兴趣，认识并学会使用</tspan><tspan x="232.4" dy="17.4">3-6种颜色：红、绿蓝、黑、黄、褐点。</tspan></text>
<text class="t" x="232.4" y="1314.5"><tspan>3、从游戏的形式让幼儿逐步学会掌握点、竖</tspan><tspan x="232.4" dy="17.4">线、横线、斜线、圆形和方形涂染等方法画出</tspan><tspan x="232.4" dy="17.4">所熟悉的物体，如树木、花草、人、动物等，</tspan><tspan x="232.4" dy="17.4">培养幼儿大胆画画的能力。</tspan></text>
<text class="t" x="619.6" y="1576.5">b.手工类</text>
<text class="t" x="541" y="1576.5">目标:</text>
<text class="t" x="232.4" y="1426.8"><tspan>1、认识泥工的材料和工具，知道其名称(粘土</tspan><tspan x="232.4" dy="17.4">、橡皮泥及面团)，知道它们的性质是柔软的</tspan><tspan x="232.4" dy="17.4">，可以塑造的。</tspan></text>
<text class="t" x="232.4" y="1521"><tspan>2、学会用搓、团圆、压扁、沾合等方法，简</tspan><tspan x="232.4" dy="17.4">单地塑造一些物体，并能按自己的意愿塑造。</tspan></text>
<text class="t" x="232.4" y="1598.1"><tspan>3、认识纸工的材料和工具名称，学会一些简</tspan><tspan x="232.4" dy="17.4">单的折叠方法(如对边折、二边向中心折、对</tspan><tspan x="232.4" dy="17.4">角折、四角向中心折)。</tspan></text>
<text class="t" x="318.6" y="1691.9">4、学习粘贴简单图形的方法。</text>
<text class="t" x="708.6" y="2425">(二)高级班</text>
<text class="t" x="605.7" y="1889.4">a.绘画类:</text>
<text class="t" x="527" y="1889.4">目标:</text>
<text class="t" x="218.5" y="1751.8"><tspan>1、教幼儿学习用圆形、椭圆形、正方形、三</tspan><tspan x="218.5" dy="17.4">角形、梯形和涂染等方法画出自己生活中观察</tspan><tspan x="218.5" dy="17.4">过的物体，简单的风景，动植物，能画出其基</tspan><tspan x="218.5" dy="17.4">本部分和主要特征。</tspan></text>
<text class="t" x="218.5" y="1863.2"><tspan>2、教幼儿区别蜡笔、水彩、蜡笔水彩混合画</tspan><tspan x="218.5" dy="17.4">的特征，对色彩调合能互相互补，用色协调、</tspan><tspan x="218.5" dy="17.4">明快、洁净。</tspan></text>
<text class="t" x="372.8" y="1975">3、构图方面能用点</text>
<text class="t" x="65.6" y="1957.4"><tspan>点、线、小圆点、花朵、叶子等画出简单的图</tspan><tspan x="65.6" dy="17.4">案，教到色彩鲜明，比例恰当。</tspan></text>
<text class="t" x="605.7" y="2200.2">a.手工类:</text>
<text class="t" x="527" y="2116">目标:</text>
<text class="t" x="218.5" y="2034.5"><tspan>1、泥工：学习捏的技能，能塑造出物象的主</tspan><tspan x="218.5" dy="17.4">要特征，会使用一些简单的辅助材料塑造简单</tspan><tspan x="218.5" dy="17.4">的玩具和动植物。</tspan></text>
<text class="t" x="218.5" y="2128.7"><tspan>2、纸工：学会一些简单的折叠方法，能折出</tspan><tspan x="218.5" dy="17.4">有关事物形象的纸工作品，及节日装饰、环境</tspan><tspan x="218.5" dy="17.4">布置等，培养幼儿的初步美感和审美能力。</tspan></text>
<text class="t" x="140" y="2163.4">月计划</text>
<text class="t" x="459.7" y="2223">九月份教学计划:</text>
<text class="t" x="513.3" y="2282.3">初级班:</text>
<text class="t" x="400.6" y="2342.8"><tspan>a.绘画：培养幼儿对绘画的兴趣，运用做做玩</tspan><tspan x="400.6" dy="17.4">玩的方法进行直线弧线的练习。</tspan></text>
<text class="t" x="400.6" y="2419.4"><tspan>b.手工：帮助幼儿认识工具、材料、了解其名</tspan><tspan x="400.6" dy="17.4">称和使用方法。</tspan></text>
<text class="t" x="308.9" y="2437.5">高级班:</text>
<text class="t" x="400.6" y="2496.5"><tspan>a.绘画：以蜡笔为主，用颜色临摹为授课方法</tspan><tspan x="400.6" dy="17.4">，让幼儿掌握基本的色彩搭配和构图。</tspan></text>
<text class="t" x="400.6" y="2586.1"><tspan>b.手工：学习撕纸粘贴方法，能撕出简单的树</tspan><tspan x="400.6" dy="17.4">叶、树干和花草，调和画面。</tspan></text>
<text class="t" x="268.5" y="2573.6">十月份教学计划</text>
<text class="t" x="322.8" y="2633">初级班</text>
<text class="t" x="400.6" y="2693"><tspan>a.绘画：运用直线、弧线组合形成整体画面，</tspan><tspan x="400.6" dy="17.4">如：《小鸭戏水》、《月亮和星星》</tspan></text>
<text class="t" x="400.6" y="2770"><tspan>b.手工：学习泥工的技能，主要是搓条、团圆</tspan><tspan x="400.6" dy="17.4">、压扁、沾合等。用这些技能可以做成小汤圆</tspan><tspan x="400.6" dy="17.4">、苹果、糖葫芦等。</tspan></text>
<text class="t" x="308.9" y="2804.8">高级班:</text>
<text class="t" x="400.6" y="2864.3"><tspan>a.绘画：以水彩为主，掌握水彩特性，能画出</tspan><tspan x="400.6" dy="17.4">简单的植物的颜色(水、树、花、鸡、鸭等)。</tspan></text>
<text class="t" x="400.6" y="2941.3"><tspan>b.手工：掌握剪纸贴，能作出各种形状，拼帖</tspan><tspan x="400.6" dy="17.4">简单的画面，如《秋树》、《雨中娃》等。</tspan></text>
</g>

<g id="p4">
<rect class="box" x="804" y="3408" width="271" height="42"/>
<text class="h" x="813" y="3435">幼儿园美术教学工作计划范文篇4</text>
<path class="ul" d="M684.3 3166.6H779.5M376.3 3166.6H659.2M684.3 3691H779.5M376.3 3329.8H659.2M376.3 3441.7H659.2M376.3 3536.4H659.2M376.3 3724.8H659.2M68.3 3648.3H352M68.3 3724.8H352M68.3 3802H352M376.3 3913.8H659.2M376.3 3990.9H659.2M422.9 4050.3H659.2"/>
<text class="t" x="691" y="3157">一、工作思路</text>
<text class="t" x="383.3" y="3017.9"><tspan>本学期我们美术组以新《纲要》理念指导美术</tspan><tspan x="383.3" dy="17.4">教学实践活动，深入研究课程实施过程中出现</tspan><tspan x="383.3" dy="17.4">的新问题、新情况，寻找解决问题的对策。积</tspan><tspan x="383.3" dy="17.4">极参与各级各类教学研讨活动，并将新思想、</tspan><tspan x="383.3" dy="17.4">新理念有效地运用到美术教育教学活动中，使</tspan><tspan x="383.3" dy="17.4">我园美术教育教学工作迈上一个新的台阶。组</tspan><tspan x="383.3" dy="17.4">织并开展好幼儿园兴趣小组活动并落实到实处</tspan><tspan x="383.3" dy="17.4">，使幼儿、教师的绘画、手工等各项技能都有</tspan><tspan x="383.3" dy="17.4">所提高。</tspan></text>
<text class="t" x="691" y="3681">二、主要工作</text>
<text class="t" x="383.3" y="3216.2"><tspan>1、贯彻新《纲要》精神，以幼儿为本，重视</tspan><tspan x="383.3" dy="17.4">教学设计、教学方法、教学手段及幼儿评价的</tspan><tspan x="383.3" dy="17.4">改革。强调学法的传授、能力的培养、习惯的</tspan><tspan x="383.3" dy="17.4">形成、心理素质的提高以及学习兴趣的激发，</tspan><tspan x="383.3" dy="17.4">让幼儿在"看看、想想、画画、玩玩"中轻松掌</tspan><tspan x="383.3" dy="17.4">握知识技能，激发幼儿学习新知识的动力和能</tspan><tspan x="383.3" dy="17.4">力。</tspan></text>
<text class="t" x="383.3" y="3380.2"><tspan>2、为了提高全园教师的绘画专业水平，发挥</tspan><tspan x="383.3" dy="17.4">美术特色小组的积极带头作用。组织教师进行</tspan><tspan x="383.3" dy="17.4">简笔画的练习，使我园教师的绘画水平有较大</tspan><tspan x="383.3" dy="17.4">的提高。</tspan></text>
<text class="t" x="383.3" y="3492"><tspan>3、为了提高幼儿教师硬笔书写水平，积极组</tspan><tspan x="383.3" dy="17.4">织教师进行钢笔字的练习，使我园文案书写方</tspan><tspan x="383.3" dy="17.4">面有很大提高。</tspan></text>
<text class="t" x="383.3" y="3680.5"><tspan>4、根据不同年龄段的幼儿制定美术特色目标</tspan><tspan x="383.3" dy="17.4">，使幼儿在掌握基本绘画的同时，掌握一项特</tspan><tspan x="383.3" dy="17.4">色，如下:</tspan></text>
<text class="t" x="75.3" y="3586.2"><tspan>小班(绘画)：熟悉使用简单的绘画工具，提供</tspan><tspan x="75.3" dy="17.4">不同的材料，让幼儿在撕撕贴贴、捏捏折折，</tspan><tspan x="75.3" dy="17.4">画画涂涂等各种活动中，提高孩子手腕动作的</tspan><tspan x="75.3" dy="17.4">灵活性和画画的兴趣。</tspan></text>
<text class="t" x="75.3" y="3697.6"><tspan>中班(泥工):感受国画的美，理解国画的表现手</tspan><tspan x="75.3" dy="17.4">法，乐意表达表现。</tspan></text>
<text class="t" x="75.3" y="3775.2"><tspan>大班(中国画)：感受剪纸的美，学习剪纸的表</tspan><tspan x="75.3" dy="17.4">现手法。</tspan></text>
<text class="t" x="383.3" y="3851.8"><tspan>5、加强学习，坚持每两周举行一次集体教研</tspan><tspan x="383.3" dy="17.4">活动。学习绘画、泥工、中国画的基本技法。</tspan><tspan x="383.3" dy="17.4">积极发现总结优秀案例，在小组内开展优质课</tspan><tspan x="383.3" dy="17.4">评比活动。</tspan></text>
<text class="t" x="383.3" y="3964"><tspan>6、积极组织幼儿参加展板的布置(绘画、手工</tspan><tspan x="383.3" dy="17.4">作品)</tspan></text>
<text class="t" x="430.5" y="4040.2">7、定期做好园内环境布置更换工作。</text>
</g>

<g id="p6">
<rect class="box" x="804" y="4398" width="271" height="42"/>
<text class="h" x="813" y="4425">幼儿园美术教学工作计划范文篇6</text>
<path class="ul" d="M496.6 4419.1H779.5M187.2 4127.4H470.5M187.2 4204H470.5M187.2 4299.2H470.5M187.2 4462.4H470.5M187.2 4539.5H470.5M187.2 4633.7H470.5M187.2 4710.3H470.5"/>
<text class="t" x="502.8" y="4218.5"><tspan>做为一名幼儿园老师，深深的懂得一个合格优</tspan><tspan x="502.8" dy="17.4">秀的教师是要有爱心、勇于立异和思考的智能</tspan><tspan x="502.8" dy="17.4">型教师，这样的人也是新时代对幼儿教师的要</tspan><tspan x="502.8" dy="17.4">求。我在日常平常 的工作中经由过程实践，</tspan><tspan x="502.8" dy="17.4">不竭总结经验，严格按照一名优秀幼儿园老师</tspan><tspan x="502.8" dy="17.4">的尺度来要求自已，用爱心去爱他们，用细心</tspan><tspan x="502.8" dy="17.4">照顾他们，用真心拥有他们，用诚心打动他们</tspan><tspan x="502.8" dy="17.4">， 让可爱的孩子们拥有更多美好的童年记忆!</tspan><tspan x="502.8" dy="17.4">在20__年的新学期中，我会专心关注每一位</tspan><tspan x="502.8" dy="17.4">幼儿的成长，还会开展一些有我园特色的教育</tspan><tspan x="502.8" dy="17.4">教学课程。为了更好的开展 新学期的工作，</tspan><tspan x="502.8" dy="17.4">本人拟定以下20__年个人工作计划:</tspan></text>
<text class="t" x="194.2" y="4100.6"><tspan>1、培养幼儿讲礼貌的习惯，与人谈时说普通</tspan><tspan x="194.2" dy="17.4">话。</tspan></text>
<text class="t" x="194.2" y="4177.2"><tspan>2、每周按时完成教学内容，激发幼儿乐趣，</tspan><tspan x="194.2" dy="17.4">使幼儿积极地介入，从学习中体会快乐。</tspan></text>
<text class="t" x="194.2" y="4253.8"><tspan>3、开展有趣的主题，让幼儿多动脑，发挥想</tspan><tspan x="194.2" dy="17.4">象力，发现有用经验，培养幼儿爱动脑、爱动</tspan><tspan x="194.2" dy="17.4">手的良好习惯。</tspan></text>
<text class="t" x="194.2" y="4348.5"><tspan>4、 多开展一些有意的活动，营造一个幼儿大</tspan><tspan x="194.2" dy="17.4">胆表达、展示自己的空间。依据《纲要》的精</tspan><tspan x="194.2" dy="17.4">神，本学期开展主题和学科相连系的活动，同</tspan><tspan x="194.2" dy="17.4">利用本园的场地优势，开展好体 育活动和户</tspan><tspan x="194.2" dy="17.4">外组织.抓晨间磨炼，充实调动幼儿按时来园</tspan><tspan x="194.2" dy="17.4">的积极性，对经常迟到的幼儿，与家长取得联</tspan><tspan x="194.2" dy="17.4">系，获得家长的配合与撑持。</tspan></text>
<text class="t" x="194.2" y="4512.3"><tspan>5、培养幼儿做好小小值日生工作，自己收拾</tspan><tspan x="194.2" dy="17.4">餐后桌面，培养孩子的自力性和自觉性.</tspan></text>
<text class="t" x="194.2" y="4588.9"><tspan>6、认真剖析本班幼儿的个人差异，因材施教</tspan><tspan x="194.2" dy="17.4">，力争使每位幼儿在原有的水平上获得较好的</tspan><tspan x="194.2" dy="17.4">提高.</tspan></text>
<text class="t" x="194.2" y="4683.6"><tspan>7、时时刻刻把安全放在第一位，开展安全教</tspan><tspan x="194.2" dy="17.4">育的活动，让幼儿受到教育.</tspan></text>
</g>
</g>
</svg>
